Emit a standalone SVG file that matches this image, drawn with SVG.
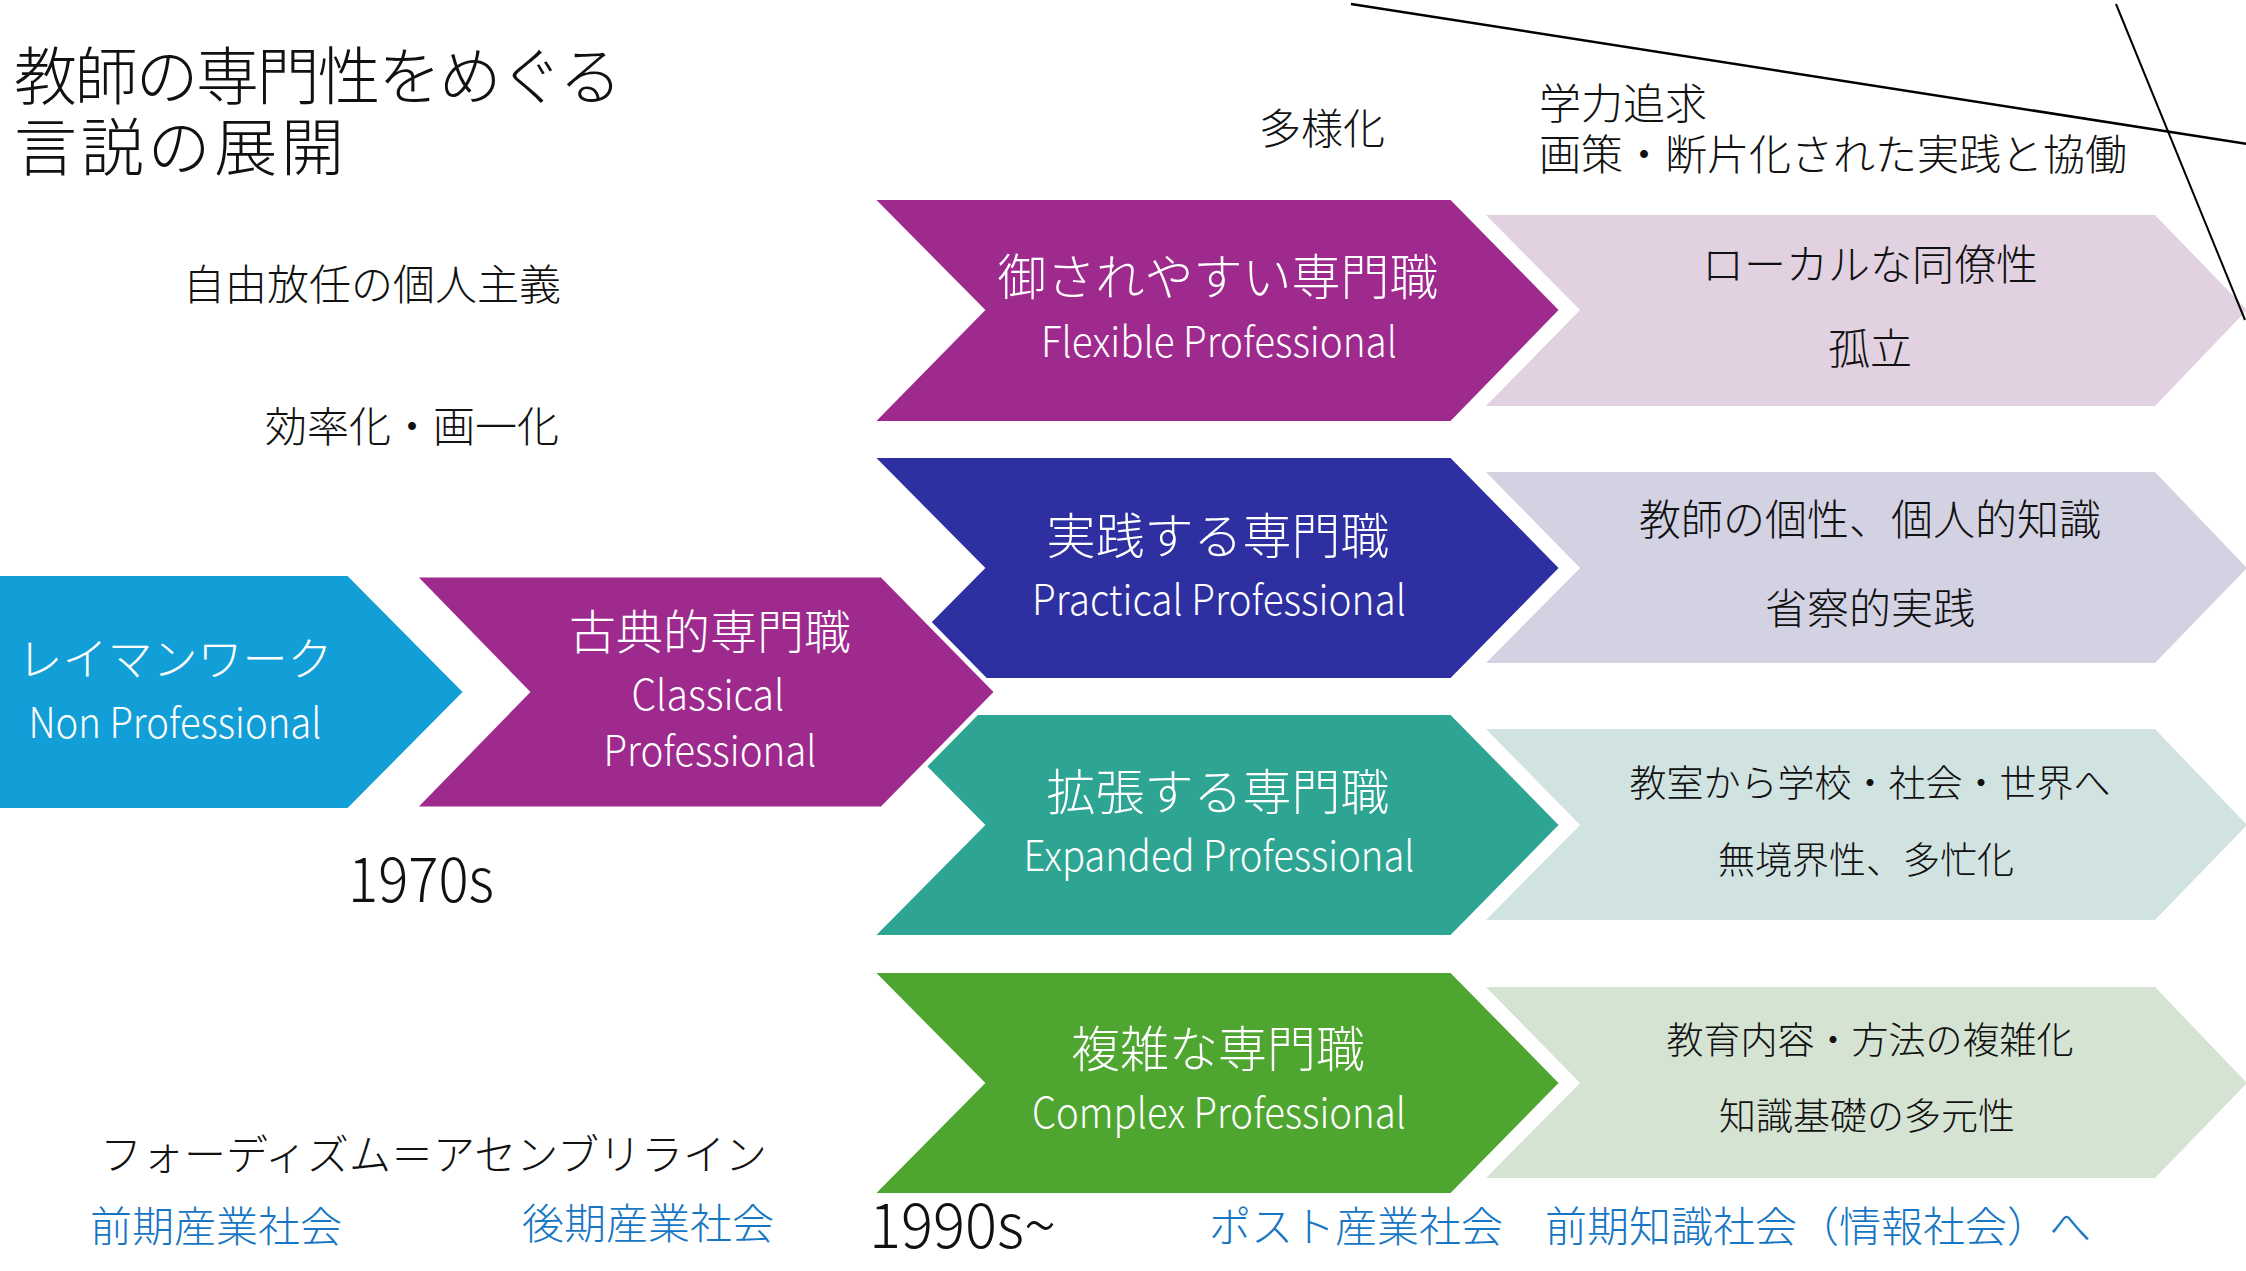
<svg xmlns="http://www.w3.org/2000/svg" width="2246" height="1271" viewBox="0 0 2246 1271">
<style>
text{font-family:"Noto Sans CJK JP","Noto Sans",sans-serif;font-weight:300}
.t{fill:#111}
.w{fill:#fff}
.b{fill:#1676c4}
.c{text-anchor:middle}
.h{font-size:49px}
.m{font-size:42px}
.s{font-size:37px}
.main{stroke:#fff;stroke-width:2}
</style>
<rect width="2246" height="1271" fill="#fff"/>
<g id="title">
<text class="t" x="14" y="99" font-size="63" textLength="608" lengthAdjust="spacing">教師の専門性をめぐる</text>
<text class="t" x="14" y="170" font-size="63" textLength="330" lengthAdjust="spacing">言説の展開</text>
</g>
<g id="row1-light"><path d="M1486,215 L2155,215 L2247,310 L2155,406 L1486,406 L1580,310 Z" fill="#e1d1e1"/>
<text class="t c m" x="1870" y="280">ローカルな同僚性</text>
<text class="t c m" x="1870" y="364">孤立</text></g>
<g id="row2-light"><path d="M1486,472 L2155,472 L2247,568 L2155,663 L1486,663 L1580,568 Z" fill="#d3d2e3"/>
<text class="t c m" x="1870" y="535">教師の個性、個人的知識</text>
<text class="t c m" x="1870" y="624">省察的実践</text></g>
<g id="row3-light"><path d="M1486,729 L2155,729 L2247,825 L2155,920 L1486,920 L1580,825 Z" fill="#d1e3e1"/>
<text class="t c s" x="1870" y="797">教室から学校・社会・世界へ</text>
<text class="t c s" x="1866" y="874">無境界性、多忙化</text></g>
<g id="row4-light"><path d="M1486,987 L2155,987 L2247,1083 L2155,1178 L1486,1178 L1580,1083 Z" fill="#d5e3d3"/>
<text class="t c s" x="1870" y="1054">教育内容・方法の複雑化</text>
<text class="t c s" x="1867" y="1130">知識基礎の多元性</text></g>
<g id="flexible"><path class="main" d="M874,199 L1451,199 L1560,310 L1451,422 L874,422 L984,310 Z" fill="#9e2a8e"/>
<text class="w c h" x="1218" y="295">御されやすい専門職</text>
<text class="w c" x="1219" y="357" font-size="42" textLength="356" lengthAdjust="spacingAndGlyphs">Flexible Professional</text></g>
<g id="practical"><path class="main" d="M874,457 L1451,457 L1560,568 L1451,679 L874,679 L984,568 Z" fill="#2e2fa0"/>
<text class="w c h" x="1218" y="554">実践する専門職</text>
<text class="w c" x="1219" y="615" font-size="42" textLength="374" lengthAdjust="spacingAndGlyphs">Practical Professional</text></g>
<g id="expanded"><path class="main" d="M874,714 L1451,714 L1560,825 L1451,936 L874,936 L984,825 Z" fill="#2ea593"/>
<text class="w c h" x="1218" y="810">拡張する専門職</text>
<text class="w c" x="1219" y="871" font-size="42" textLength="391" lengthAdjust="spacingAndGlyphs">Expanded Professional</text></g>
<g id="complex"><path class="main" d="M874,972 L1451,972 L1560,1083 L1451,1194 L874,1194 L984,1083 Z" fill="#4ea631"/>
<text class="w c h" x="1218" y="1067">複雑な専門職</text>
<text class="w c" x="1219" y="1128" font-size="42" textLength="374" lengthAdjust="spacingAndGlyphs">Complex Professional</text></g>
<g id="layman"><path d="M-4,575 L348,575 L464,692 L348,809 L-4,809 Z" fill="#129ed6" stroke="#fff" stroke-width="2"/>
<text class="w c" x="175" y="676" font-size="45">レイマンワーク</text>
<text class="w c" x="175" y="738" font-size="42" textLength="293" lengthAdjust="spacingAndGlyphs">Non Professional</text></g>
<g id="classical"><path d="M413,575 L882,575 L997,692 L882,809 L413,809 L527,692 Z" fill="#9e2a8e" stroke="#fff" stroke-width="5"/>
<text class="w c" x="710" y="649" font-size="47">古典的専門職</text>
<text class="w c" x="708" y="710" font-size="42" textLength="153" lengthAdjust="spacingAndGlyphs">Classical</text>
<text class="w c" x="710" y="766" font-size="42" textLength="213" lengthAdjust="spacingAndGlyphs">Professional</text></g>
<g id="labels">
<text class="t m" x="1259" y="144">多様化</text>
<text class="t m" x="1539" y="119">学力追求</text>
<text class="t m" x="1539" y="170">画策・断片化された実践と協働</text>
<text class="t m" x="183" y="300">自由放任の個人主義</text>
<text class="t m" x="265" y="442">効率化・画一化</text>
<text class="t" x="421" y="902" font-size="62" text-anchor="middle" textLength="146" lengthAdjust="spacingAndGlyphs">1970s</text>
<text class="t m" x="100" y="1170">フォーディズム＝アセンブリライン</text>
<text class="b m" x="90" y="1242">前期産業社会</text>
<text class="b m" x="522" y="1239">後期産業社会</text>
<text class="t" x="869" y="1248" font-size="62" textLength="187" lengthAdjust="spacingAndGlyphs">1990s~</text>
<text class="b m" x="1209" y="1242">ポスト産業社会　前期知識社会（情報社会）へ</text>
</g>
<g id="connectors" stroke="#000" fill="none">
<line x1="1351" y1="4" x2="2260" y2="146" stroke-width="2.5"/>
<line x1="2116" y1="4" x2="2245" y2="320" stroke-width="2"/>
</g>
</svg>
